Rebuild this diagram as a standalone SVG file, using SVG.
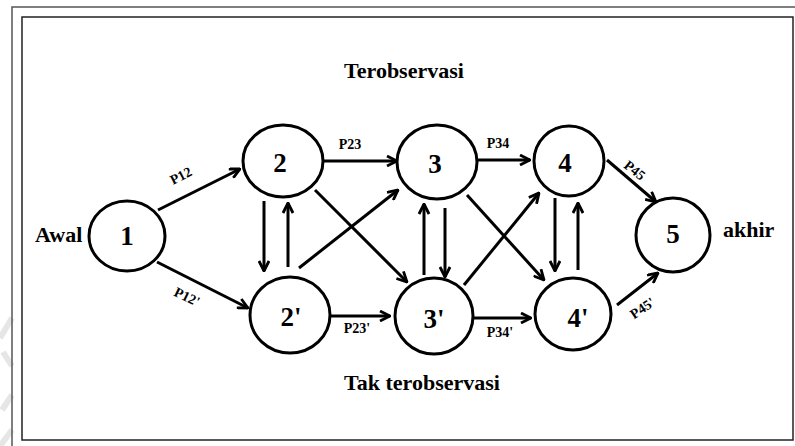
<svg xmlns="http://www.w3.org/2000/svg" width="795" height="446" viewBox="0 0 795 446">
<style>
text{font-family:"Liberation Serif","Times New Roman","DejaVu Serif",serif;font-weight:bold;fill:#000}
.node{fill:#fff;stroke:#000;stroke-width:3}
.num{font-size:27px;text-anchor:middle}
.big{font-size:22px}
.lbl{font-size:14px;text-anchor:middle}
.edge{stroke:#000;stroke-width:3;fill:none;marker-end:url(#ah)}
</style>
<defs>
<marker id="ah" markerUnits="userSpaceOnUse" viewBox="0 0 12 12" refX="11" refY="6" markerWidth="12" markerHeight="12" orient="auto">
<path d="M1,1 L11,6 L1,11" fill="none" stroke="#000" stroke-width="2.8"/>
</marker>
</defs>
<rect width="795" height="446" fill="#fff"/>
<g id="watermark" stroke="#e6e6e6" stroke-width="6" fill="none">
<path d="M12,318 L0,338"/>
<path d="M3,352 L12,366"/>
<path d="M12,395 L2,410"/>
<path d="M12,430 L0,446"/>
</g>
<g id="frame" fill="none">
<path d="M12,446 L12,7 L795,7" stroke="#555" stroke-width="1.5"/>
<rect x="22" y="17" width="771" height="423" stroke="#222" stroke-width="1.5"/>
</g>
<g id="titles">
<text class="big" x="404" y="78" text-anchor="middle" font-family="Liberation Serif, DejaVu Serif, serif">Terobservasi</text>
<text class="big" x="422" y="390" text-anchor="middle" font-family="Liberation Serif, DejaVu Serif, serif">Tak terobservasi</text>
<text class="big" x="35" y="242" font-family="Liberation Serif, DejaVu Serif, serif">Awal</text>
<text class="big" x="723" y="237" font-family="Liberation Serif, DejaVu Serif, serif">akhir</text>
</g>
<g id="connectors">
<line class="edge" x1="158" y1="210" x2="240" y2="169"/>
<line class="edge" x1="157" y1="262" x2="248" y2="308"/>
<line class="edge" x1="323" y1="161" x2="397" y2="161"/>
<line class="edge" x1="330" y1="316" x2="390" y2="316"/>
<line class="edge" x1="478" y1="160" x2="530" y2="160"/>
<line class="edge" x1="473" y1="318" x2="531" y2="318"/>
<line class="edge" x1="607" y1="160" x2="656" y2="202"/>
<line class="edge" x1="617" y1="305" x2="658" y2="273"/>
<line class="edge" x1="264" y1="201" x2="264" y2="271"/>
<line class="edge" x1="288" y1="267" x2="288" y2="203"/>
<line class="edge" x1="299" y1="268" x2="398" y2="190"/>
<line class="edge" x1="315" y1="190" x2="407" y2="282"/>
<line class="edge" x1="424" y1="275" x2="424" y2="204"/>
<line class="edge" x1="445" y1="208" x2="445" y2="277"/>
<line class="edge" x1="464" y1="285" x2="539" y2="193"/>
<line class="edge" x1="467" y1="195" x2="544" y2="280"/>
<line class="edge" x1="555" y1="198" x2="555" y2="271"/>
<line class="edge" x1="578" y1="270" x2="578" y2="203"/>
</g>
<g id="edge-labels">
<text class="lbl" transform="translate(183,180) rotate(-27)">P12</text>
<text class="lbl" transform="translate(185,301) rotate(26)">P12'</text>
<text class="lbl" x="350" y="149">P23</text>
<text class="lbl" x="357" y="333">P23'</text>
<text class="lbl" x="498" y="148">P34</text>
<text class="lbl" x="500" y="337">P34'</text>
<text class="lbl" transform="translate(632,174) rotate(38)">P45</text>
<text class="lbl" transform="translate(645,312) rotate(-34)">P45'</text>
</g>
<g id="node-1"><ellipse class="node" cx="127" cy="236" rx="38" ry="35"/><text class="num" x="127" y="245">1</text></g>
<g id="node-2"><ellipse class="node" cx="283" cy="161" rx="40" ry="36"/><text class="num" x="280" y="172">2</text></g>
<g id="node-2p"><ellipse class="node" cx="290" cy="315" rx="40" ry="38"/><text class="num" x="291" y="326">2'</text></g>
<g id="node-3"><ellipse class="node" cx="437" cy="162" rx="40" ry="37"/><text class="num" x="435" y="173">3</text></g>
<g id="node-3p"><ellipse class="node" cx="434" cy="316" rx="39" ry="38"/><text class="num" x="434" y="328">3'</text></g>
<g id="node-4"><ellipse class="node" cx="569" cy="161" rx="35" ry="35"/><text class="num" x="565" y="172">4</text></g>
<g id="node-4p"><ellipse class="node" cx="573" cy="314" rx="38" ry="36"/><text class="num" x="578" y="327">4'</text></g>
<g id="node-5"><ellipse class="node" cx="673" cy="235" rx="37" ry="37"/><text class="num" x="673" y="243">5</text></g>
</svg>
